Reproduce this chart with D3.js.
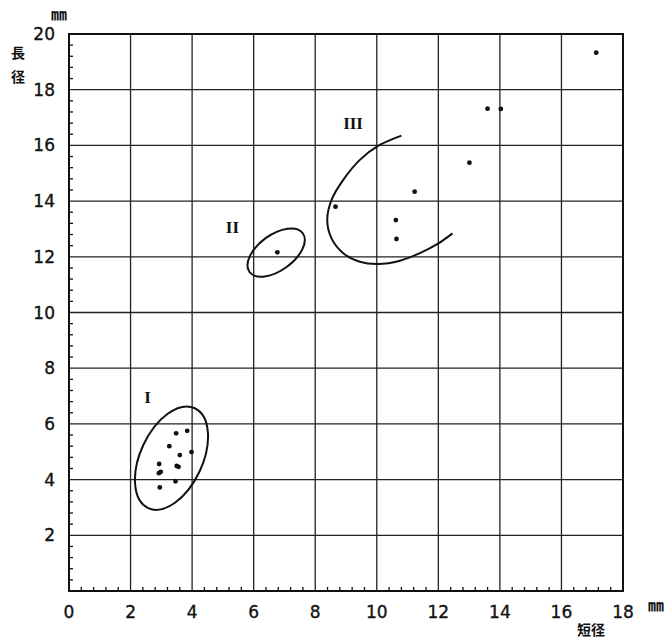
<!DOCTYPE html>
<html>
<head>
<meta charset="utf-8">
<script src="https://cdn.jsdelivr.net/npm/d3@7/dist/d3.min.js"></script>
<style>
  body { margin: 0; background: #fff; }
  svg { display: block; }
  .tick-label { font-family: "DejaVu Sans", sans-serif; font-size: 17px; fill: #111; stroke: #111; stroke-width: 0.35px; }
  .cjk { font-family: "Noto Sans CJK JP", sans-serif; font-weight: bold; fill: #111; }
  .roman { font-family: "Liberation Serif", "DejaVu Serif", serif; font-weight: bold; font-size: 17px; fill: #111; }
</style>
</head>
<body>
<script>
// axis setup (mm)
var xTicks = [0, 2, 4, 6, 8, 10, 12, 14, 16, 18];
var yTicks = [2, 4, 6, 8, 10, 12, 14, 16, 18, 20];

// measured specimens: short diameter (x) vs long diameter (y)
var groupI = [
  [3.48, 5.66], [3.84, 5.75], [3.26, 5.20], [3.60, 4.88], [3.98, 4.99],
  [2.93, 4.56], [3.50, 4.49], [3.56, 4.46], [2.98, 4.28], [2.92, 4.23],
  [3.46, 3.94], [2.95, 3.72]
];
var groupII = [[6.77, 12.16]];
var groupIII = [[8.66, 13.80], [11.23, 14.34], [10.62, 13.32], [10.64, 12.64]];
var others = [[17.13, 19.33], [13.60, 17.32], [14.03, 17.31], [13.01, 15.38]];

// hand drawn enclosures
// ellipses: centre (data), semi axes (in x units), tilt in degrees
var ellipses = [
  {cx: 3.33, cy: 4.77, a: 1.79, b: 1.01, angle: 65},
  {cx: 6.73, cy: 12.15, a: 1.07, b: 0.58, angle: 36}
];
// open arc around group III
var arcIII = [
  [10.80, 16.35], [10.04, 15.98], [9.45, 15.48], [8.91, 14.76], [8.53, 14.04],
  [8.39, 13.32], [8.53, 12.66], [8.91, 12.13], [9.45, 11.82], [10.04, 11.74],
  [10.75, 11.86], [11.40, 12.13], [11.99, 12.47], [12.46, 12.84]
];
var groupLabels = [
  {text: "I", x: 2.55, y: 6.98},
  {text: "II", x: 5.31, y: 13.08},
  {text: "III", x: 9.23, y: 16.79}
];

var W = 671, H = 640;
var svg = d3.select("body").append("svg").attr("width", W).attr("height", H);

var x = d3.scaleLinear().domain([0, 18]).range([69, 623]);
var y = d3.scaleLinear().domain([0, 20]).range([591, 34]);

// grid
var g = svg.append("g");
g.selectAll(".vgrid").data(xTicks.slice(1, -1)).enter().append("line")
  .attr("x1", d => x(d)).attr("x2", d => x(d))
  .attr("y1", y(0)).attr("y2", y(20))
  .attr("stroke", "#222").attr("stroke-width", 1.3);
g.selectAll(".hgrid").data(yTicks.slice(0, -1)).enter().append("line")
  .attr("x1", x(0)).attr("x2", x(18))
  .attr("y1", d => y(d)).attr("y2", d => y(d))
  .attr("stroke", "#222").attr("stroke-width", 1.3);

// minor ticks every 0.4
var minorX = d3.range(1, 45).map(i => i * 0.4).filter(v => Math.abs(v / 2 - Math.round(v / 2)) > 1e-6);
var minorY = d3.range(1, 50).map(i => i * 0.4).filter(v => Math.abs(v / 2 - Math.round(v / 2)) > 1e-6);
g.selectAll(".mx").data(minorX).enter().append("line")
  .attr("x1", d => x(d)).attr("x2", d => x(d))
  .attr("y1", y(0)).attr("y2", y(0) - 4)
  .attr("stroke", "#111").attr("stroke-width", 1.3);
g.selectAll(".my").data(minorY).enter().append("line")
  .attr("x1", x(0)).attr("x2", x(0) + 4)
  .attr("y1", d => y(d)).attr("y2", d => y(d))
  .attr("stroke", "#111").attr("stroke-width", 1.3);

// frame
g.append("rect")
  .attr("x", x(0)).attr("y", y(20))
  .attr("width", x(18) - x(0)).attr("height", y(0) - y(20))
  .attr("fill", "none").attr("stroke", "#111").attr("stroke-width", 2);

// tick labels
svg.selectAll(".xl").data(xTicks).enter().append("text")
  .attr("class", "tick-label")
  .attr("x", d => x(d)).attr("y", 618)
  .attr("text-anchor", "middle")
  .text(d => d);
svg.selectAll(".yl").data(yTicks).enter().append("text")
  .attr("class", "tick-label")
  .attr("x", 55).attr("y", d => y(d) + 6)
  .attr("text-anchor", "end")
  .text(d => d);

// units and titles
svg.append("text").attr("class", "cjk").attr("x", 59).attr("y", 20)
  .attr("text-anchor", "middle").style("font-size", "16px").text("㎜");
svg.append("text").attr("class", "cjk").attr("x", 656).attr("y", 611)
  .attr("text-anchor", "middle").style("font-size", "16px").text("㎜");
svg.append("text").attr("class", "cjk").attr("x", 18).attr("y", 58)
  .attr("text-anchor", "middle").style("font-size", "14px").text("長");
svg.append("text").attr("class", "cjk").attr("x", 18).attr("y", 82)
  .attr("text-anchor", "middle").style("font-size", "14px").text("径");
svg.append("text").attr("class", "cjk").attr("x", 591).attr("y", 635)
  .attr("text-anchor", "middle").style("font-size", "14px").text("短径");

// ellipses
var unit = x(1) - x(0);
ellipses.forEach(function(e) {
  svg.append("ellipse")
    .attr("cx", x(e.cx)).attr("cy", y(e.cy))
    .attr("rx", e.a * unit).attr("ry", e.b * unit)
    .attr("transform", "rotate(" + (-e.angle) + "," + x(e.cx) + "," + y(e.cy) + ")")
    .attr("fill", "none").attr("stroke", "#111").attr("stroke-width", 2);
});

// arc III
var line = d3.line().x(d => x(d[0])).y(d => y(d[1])).curve(d3.curveCatmullRom);
svg.append("path").datum(arcIII)
  .attr("d", line)
  .attr("fill", "none").attr("stroke", "#111").attr("stroke-width", 2);

// dots
var allPts = groupI.concat(groupII, groupIII, others);
svg.selectAll(".dot").data(allPts).enter().append("circle")
  .attr("cx", d => x(d[0])).attr("cy", d => y(d[1]))
  .attr("r", 2.4).attr("fill", "#111");

// group labels
svg.selectAll(".gl").data(groupLabels).enter().append("text")
  .attr("class", "roman")
  .attr("x", d => x(d.x)).attr("y", d => y(d.y) + 6)
  .attr("text-anchor", "middle")
  .text(d => d.text);
</script>
</body>
</html>
